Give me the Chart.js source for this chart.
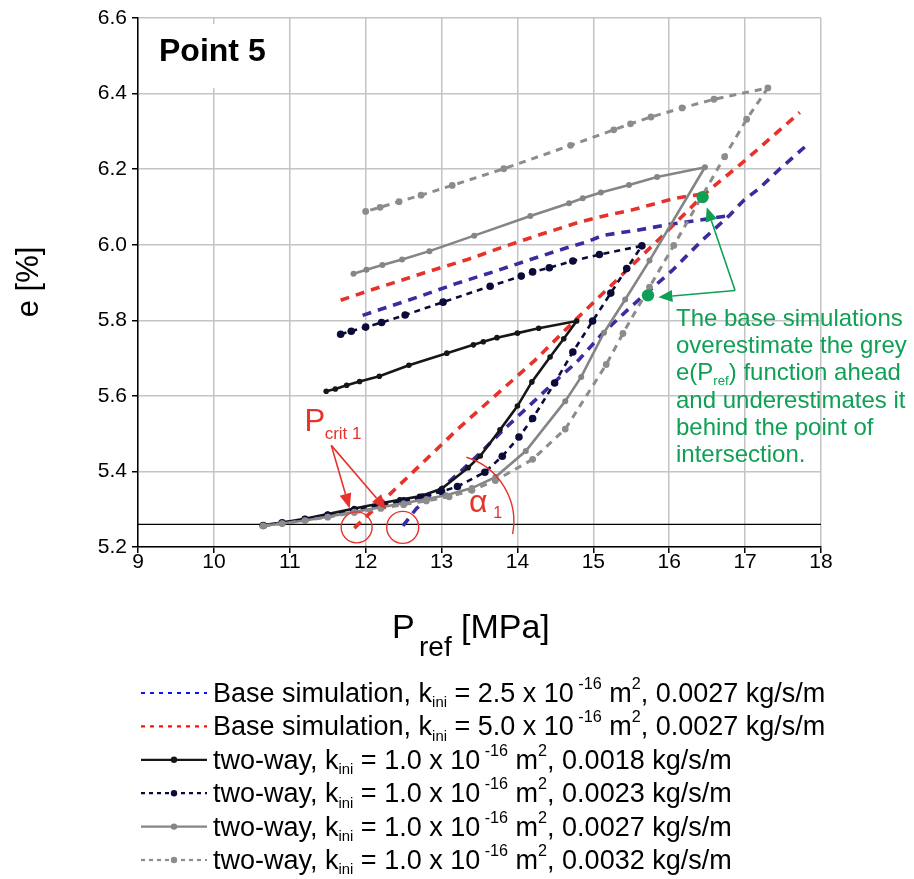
<!DOCTYPE html>
<html>
<head>
<meta charset="utf-8">
<script src="https://cdn.jsdelivr.net/npm/chart.js@4/dist/chart.umd.min.js"></script>
<style>
  html, body { margin: 0; padding: 0; background: #ffffff; }
  canvas { display: block; }
</style>
</head>
<body>
<canvas id="chart" width="914" height="879"></canvas>
<script>
const FONT = '"Liberation Sans", Arial, Helvetica, sans-serif';

// Axis ticks
const xTicks = [9, 10, 11, 12, 13, 14, 15, 16, 17, 18];
const yTicks = [5.2, 5.4, 5.6, 5.8, 6.0, 6.2, 6.4, 6.6];
const initialStrain = 5.26;

// Base simulation, k_ini = 2.5e-16 m2 (rising branch, then upper branch)
const base25RiseP = [12.49, 12.67, 12.89, 13.24, 13.50, 13.81, 14.21, 14.56, 14.78, 15.12, 15.47, 16.04, 16.43, 16.79, 16.98, 17.18, 17.46, 17.85];
const base25RiseE = [5.256, 5.302, 5.337, 5.398, 5.447, 5.509, 5.584, 5.650, 5.689, 5.765, 5.831, 5.932, 6.011, 6.077, 6.117, 6.148, 6.201, 6.270];
const base25UpperP = [11.96, 12.23, 12.71, 13.19, 13.68, 14.16, 14.65, 14.91, 15.13, 15.57, 16.01, 16.36, 16.79];
const base25UpperE = [5.813, 5.831, 5.863, 5.897, 5.928, 5.960, 5.992, 6.007, 6.025, 6.038, 6.054, 6.064, 6.077];

// Base simulation, k_ini = 5.0e-16 m2
const base50RiseP = [11.85, 12.32, 13.24, 14.23, 14.78, 15.94, 16.47, 17.00, 17.72];
const base50RiseE = [5.250, 5.340, 5.517, 5.694, 5.804, 6.029, 6.135, 6.223, 6.350];
const base50UpperP = [11.67, 11.86, 12.10, 12.84, 13.33, 13.81, 14.30, 14.82, 15.07, 15.53, 15.80, 16.06, 16.30, 16.47];
const base50UpperE = [5.853, 5.866, 5.882, 5.930, 5.960, 5.994, 6.027, 6.060, 6.073, 6.093, 6.108, 6.122, 6.130, 6.135];

// two-way, 0.0018 kg/s/m (loading then unloading)
const tw18P = [10.65, 10.90, 11.20, 11.50, 11.85, 12.20, 12.45, 12.71, 13.00, 13.35, 13.51, 13.77, 14.00, 14.19, 14.43, 14.61, 14.78,
               14.28, 14.00, 13.73, 13.55, 13.42, 13.07, 12.57, 12.18, 11.92, 11.75, 11.60, 11.48];
const tw18E = [5.258, 5.265, 5.275, 5.287, 5.302, 5.316, 5.325, 5.334, 5.354, 5.410, 5.441, 5.510, 5.573, 5.637, 5.703, 5.751, 5.798,
               5.779, 5.766, 5.754, 5.743, 5.735, 5.713, 5.681, 5.652, 5.638, 5.628, 5.618, 5.612];

// two-way, 0.0023 kg/s/m
const tw23P = [10.65, 10.90, 11.20, 11.50, 11.85, 12.20, 12.50, 12.75, 13.00, 13.21, 13.57, 13.80, 14.02, 14.20, 14.49, 14.73, 14.99, 15.23, 15.44, 15.64,
               15.08, 14.73, 14.42, 14.20, 14.05, 13.64, 13.02, 12.52, 12.21, 12.00, 11.81, 11.67];
const tw23E = [5.257, 5.264, 5.273, 5.284, 5.298, 5.312, 5.322, 5.332, 5.347, 5.360, 5.398, 5.440, 5.491, 5.540, 5.634, 5.716, 5.798, 5.872, 5.937, 5.997,
               5.974, 5.957, 5.939, 5.928, 5.917, 5.890, 5.848, 5.814, 5.794, 5.782, 5.771, 5.763];

// two-way, 0.0027 kg/s/m
const tw27P = [10.65, 10.90, 11.20, 11.50, 11.85, 12.20, 12.50, 12.80, 13.06, 13.40, 13.71, 14.11, 14.63, 14.84, 15.14, 15.42, 15.74, 16.47,
               15.84, 15.47, 15.10, 14.86, 14.68, 14.17, 13.43, 12.84, 12.48, 12.22, 12.01, 11.84];
const tw27E = [5.256, 5.262, 5.270, 5.280, 5.293, 5.305, 5.316, 5.327, 5.337, 5.356, 5.385, 5.454, 5.586, 5.650, 5.767, 5.855, 5.958, 6.205,
               6.179, 6.158, 6.138, 6.123, 6.110, 6.076, 6.024, 5.983, 5.961, 5.946, 5.934, 5.923];

// two-way, 0.0032 kg/s/m
const tw32P = [10.65, 10.90, 11.20, 11.50, 11.85, 12.20, 12.50, 12.80, 13.10, 13.40, 13.71, 14.20, 14.63, 15.17, 15.39, 15.74, 16.06, 16.73, 17.02, 17.30,
               16.59, 16.17, 15.76, 15.49, 15.27, 14.70, 13.82, 13.14, 12.73, 12.44, 12.19, 12.00];
const tw32E = [5.256, 5.262, 5.270, 5.279, 5.291, 5.302, 5.312, 5.322, 5.333, 5.350, 5.376, 5.432, 5.512, 5.683, 5.765, 5.888, 5.998, 6.233, 6.332, 6.415,
               6.385, 6.362, 6.338, 6.320, 6.304, 6.263, 6.201, 6.157, 6.131, 6.114, 6.099, 6.088];

// Intersection markers
const markP = [16.44, 15.72];
const markE = [6.126, 5.866];

const pts = (xs, ys) => xs.map((x, i) => ({ x: x, y: ys[i] }));

const C = {
  blue: '#3a2b9e', red: '#e6322a', black: '#161616', navy: '#0b0b3a',
  grey: '#858585', grey2: '#8c8c8c', green: '#0fa055', grid: '#c4c4c4'
};

const dashedBase = (data, color, order) => ({
  data: data, showLine: true, borderColor: color, backgroundColor: color,
  borderWidth: 3.6, borderDash: [9, 7], pointRadius: 0, order: order
});
const twoWay = (data, color, width, dash, radius, order) => ({
  data: data, showLine: true, borderColor: color, backgroundColor: color,
  pointBackgroundColor: color, pointBorderColor: color, pointBorderWidth: 0,
  borderWidth: width, borderDash: dash, pointRadius: radius, order: order
});

const datasets = [
  { data: pts([9, 18], [initialStrain, initialStrain]), showLine: true, borderColor: '#000', borderWidth: 1.4, pointRadius: 0, order: 9 },
  dashedBase(pts(base25RiseP, base25RiseE), C.blue, 7),
  dashedBase(pts(base25UpperP, base25UpperE), C.blue, 7),
  dashedBase(pts(base50RiseP, base50RiseE), C.red, 6),
  dashedBase(pts(base50UpperP, base50UpperE), C.red, 6),
  twoWay(pts(tw18P, tw18E), C.black, 2.6, [], 2.8, 5),
  twoWay(pts(tw23P, tw23E), C.navy, 2.6, [6, 5], 3.8, 4),
  twoWay(pts(tw27P, tw27E), C.grey, 2.6, [], 3.0, 3),
  twoWay(pts(tw32P, tw32E), C.grey2, 3.0, [7, 6], 3.4, 2),
  { data: pts(markP, markE), showLine: false, pointRadius: 6.2, pointBackgroundColor: C.green, pointBorderWidth: 0, order: 0 }
];

// Legend entries drawn under the plot
const kPart = (head, kval, rate) => [
  { t: head + ', k' }, { t: 'ini', s: 'sub' }, { t: ' = ' + kval + ' x 10' }, { t: ' -16', s: 'sup' },
  { t: ' m' }, { t: '2', s: 'sup' }, { t: ', ' + rate + ' kg/s/m' }
];
const legendRows = [
  { color: '#1010ff', dash: [4, 5], dot: false, parts: kPart('Base simulation', '2.5', '0.0027') },
  { color: '#ff1010', dash: [4, 5], dot: false, parts: kPart('Base simulation', '5.0', '0.0027') },
  { color: C.black, dash: [], dot: true, parts: kPart('two-way', '1.0', '0.0018') },
  { color: C.navy, dash: [4, 4], dot: true, parts: kPart('two-way', '1.0', '0.0023') },
  { color: C.grey, dash: [], dot: true, parts: kPart('two-way', '1.0', '0.0027') },
  { color: C.grey2, dash: [4, 4], dot: true, parts: kPart('two-way', '1.0', '0.0032') }
];

const noteLines = [
  [{ t: 'The base simulations' }],
  [{ t: 'overestimate the grey' }],
  [{ t: 'e(P' }, { t: 'ref', s: 'sub' }, { t: ') function ahead' }],
  [{ t: 'and underestimates it' }],
  [{ t: 'behind the point of' }],
  [{ t: 'intersection.' }]
];

function drawRich(ctx, x, y, parts, size, color) {
  ctx.fillStyle = color;
  ctx.textAlign = 'left';
  ctx.textBaseline = 'alphabetic';
  for (const p of parts) {
    let fs = size, dy = 0;
    if (p.s === 'sub') { fs = size * 0.55; dy = size * 0.2; }
    if (p.s === 'sup') { fs = size * 0.6; dy = -size * 0.48; }
    ctx.font = fs + 'px ' + FONT;
    ctx.fillText(p.t, x, y + dy);
    x += ctx.measureText(p.t).width;
  }
  return x;
}

function arrow(ctx, x0, y0, x1, y1, color, len, half, lw) {
  const a = Math.atan2(y1 - y0, x1 - x0);
  const bx = x1 - len * Math.cos(a), by = y1 - len * Math.sin(a);
  ctx.strokeStyle = color; ctx.fillStyle = color; ctx.lineWidth = lw; ctx.setLineDash([]);
  ctx.beginPath(); ctx.moveTo(x0, y0); ctx.lineTo(bx, by); ctx.stroke();
  ctx.beginPath();
  ctx.moveTo(x1, y1);
  ctx.lineTo(bx + half * Math.sin(a), by - half * Math.cos(a));
  ctx.lineTo(bx - half * Math.sin(a), by + half * Math.cos(a));
  ctx.closePath(); ctx.fill();
}

const decorations = {
  id: 'decorations',
  beforeDatasetsDraw(chart) {
    const ctx = chart.ctx;
    ctx.save();
    ctx.fillStyle = '#ffffff';
    ctx.fillRect(148, 24, 130, 64);
    ctx.fillStyle = '#000';
    ctx.font = 'bold 32px ' + FONT;
    ctx.textBaseline = 'alphabetic';
    ctx.fillText('Point 5', 159, 61);
    ctx.restore();
  },
  afterDraw(chart) {
    const ctx = chart.ctx;
    const xs = chart.scales.x, ys = chart.scales.y;
    const px = v => xs.getPixelForValue(v), py = v => ys.getPixelForValue(v);
    ctx.save();

    // P_crit 1 label, arrows and circles
    drawRich(ctx, px(11.195), py(5.508), [{ t: 'P' }], 31, C.red);
    drawRich(ctx, px(11.46), py(5.487), [{ t: 'crit 1' }], 17, C.red);
    arrow(ctx, px(11.547), py(5.469), px(11.789), py(5.302), C.red, 15, 6, 1.6);
    arrow(ctx, px(11.547), py(5.469), px(12.273), py(5.299), C.red, 15, 6, 1.6);
    ctx.strokeStyle = C.red; ctx.lineWidth = 1.4;
    ctx.beginPath(); ctx.arc(px(11.881), py(5.252), 15.5, 0, Math.PI * 2); ctx.stroke();
    ctx.beginPath(); ctx.arc(px(12.488), py(5.252), 16, 0, Math.PI * 2); ctx.stroke();

    // alpha_1 angle
    ctx.beginPath();
    ctx.arc(px(13.069), py(5.268), 67, -73 * Math.PI / 180, 11 * Math.PI / 180);
    ctx.stroke();
    drawRich(ctx, px(13.36), py(5.292), [{ t: 'α' }], 32, C.red);
    drawRich(ctx, px(13.68), py(5.276), [{ t: '1' }], 16, C.red);

    // green note with arrows
    arrow(ctx, px(16.868), py(5.879), px(16.495), py(6.099), C.green, 14, 6, 1.6);
    arrow(ctx, px(16.868), py(5.879), px(15.857), py(5.861), C.green, 14, 6, 1.6);
    noteLines.forEach((parts, i) => {
      drawRich(ctx, 676, 326 + i * 27.2, parts, 24, C.green);
    });

    // axis titles
    ctx.save();
    ctx.translate(38, 282);
    ctx.rotate(-Math.PI / 2);
    ctx.fillStyle = '#000';
    ctx.font = '31px ' + FONT;
    ctx.textAlign = 'center';
    ctx.fillText('e [%]', 0, 0);
    ctx.restore();
    drawRich(ctx, 392, 638, [{ t: 'P' }], 34, '#000');
    drawRich(ctx, 419, 656, [{ t: 'ref' }], 28, '#000');
    drawRich(ctx, 461, 638, [{ t: '[MPa]' }], 34, '#000');

    // legend
    legendRows.forEach((row, i) => {
      const cy = 693 + i * 33.4;
      ctx.strokeStyle = row.color; ctx.lineWidth = 2.2; ctx.setLineDash(row.dash);
      ctx.beginPath(); ctx.moveTo(141, cy); ctx.lineTo(207, cy); ctx.stroke();
      ctx.setLineDash([]);
      if (row.dot) {
        ctx.fillStyle = row.color;
        ctx.beginPath(); ctx.arc(174, cy, 3.2, 0, Math.PI * 2); ctx.fill();
      }
      drawRich(ctx, 213, cy + 9, row.parts, 27, '#000');
    });
    ctx.restore();
  }
};

new Chart(document.getElementById('chart'), {
  type: 'scatter',
  data: { datasets: datasets },
  plugins: [decorations],
  options: {
    responsive: false,
    animation: false,
    layout: { padding: { top: 18, right: 93, left: 0, bottom: 0 } },
    plugins: { legend: { display: false }, tooltip: { enabled: false } },
    scales: {
      x: {
        type: 'linear', min: 9, max: 18,
        afterFit: s => { s.height = 332; },
        afterBuildTicks: s => { s.ticks = xTicks.map(v => ({ value: v })); },
        ticks: { font: { family: FONT, size: 21 }, color: '#000', padding: -3 },
        grid: { color: C.grid, lineWidth: 1.5, tickColor: '#000', tickLength: 6 },
        border: { color: '#000', width: 1.5 }
      },
      y: {
        type: 'linear', min: 5.2, max: 6.6,
        afterFit: s => { s.width = 138; },
        afterBuildTicks: s => { s.ticks = yTicks.map(v => ({ value: v })); },
        ticks: { font: { family: FONT, size: 21 }, color: '#000', padding: 5, callback: v => Number(v).toFixed(1) },
        grid: { color: C.grid, lineWidth: 1.5, tickColor: '#000', tickLength: 6 },
        border: { color: '#000', width: 1.5 }
      }
    }
  }
});
</script>
</body>
</html>
